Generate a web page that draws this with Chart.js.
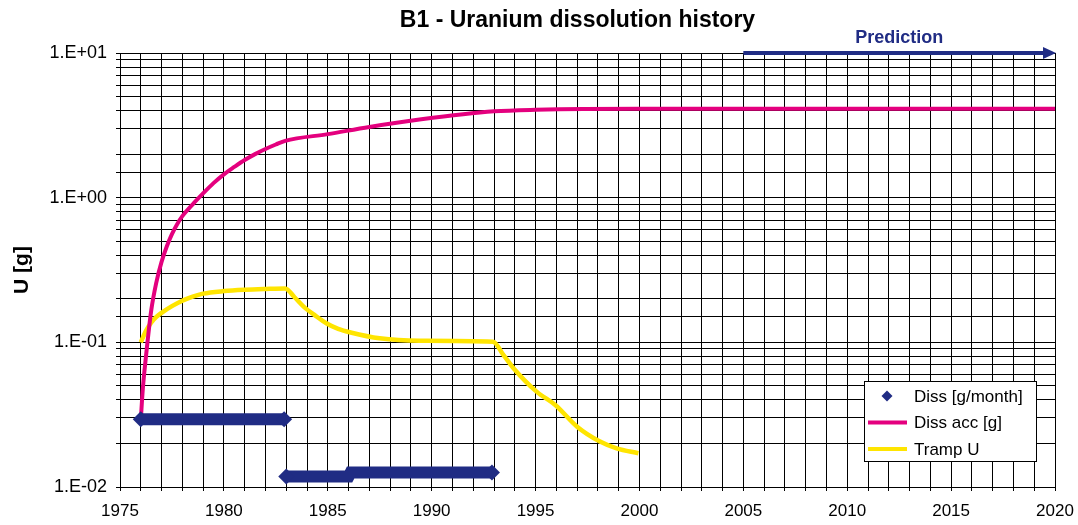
<!DOCTYPE html>
<html>
<head>
<meta charset="utf-8">
<script src="https://cdn.jsdelivr.net/npm/chart.js@4/dist/chart.umd.min.js"></script>
<style>
  html, body { margin: 0; padding: 0; background: #fff; }
  canvas { display: block; }
</style>
</head>
<body>
<canvas id="c" width="1078" height="525"></canvas>
<script>
// ---- data ----
const chartTitle = 'B1 - Uranium dissolution history';
const yAxisTitle = 'U [g]';
const seriesNames = ['Diss [g/month]', 'Diss acc [g]', 'Tramp U'];
const predictionLabel = 'Prediction';
const predictionRange = [2005, 2020];

const xMin = 1975, xMax = 2020;
const xTickLabels = [1975, 1980, 1985, 1990, 1995, 2000, 2005, 2010, 2015, 2020];
const yMin = 0.01, yMax = 10;
const yTickValues = [0.01, 0.1, 1, 10];
const yTickLabels = ['1.E-02', '1.E-01', '1.E+00', '1.E+01'];

// Diss [g/month] (null separates segments)
const dissX = [1976.0, 1982.9, 1982.95, 1983.0, 1986.0, 1986.1, 1992.9];
const dissY = [0.0294, 0.0294, null, 0.0118, 0.0118, 0.0126, 0.0126];

// Diss acc [g]
const accX = [1976.0, 1976.1, 1976.25, 1976.5, 1976.75, 1977.0, 1977.25, 1977.5, 1977.75, 1978.0, 1978.5, 1979.0, 1979.5, 1980.0, 1980.5, 1981.0, 1981.5, 1982.0, 1982.5, 1982.95, 1985.0, 1987.0, 1989.5, 1993.0, 1995.0, 2000.0, 2020.0];
const accY = [0.029, 0.048, 0.08, 0.165, 0.26, 0.36, 0.46, 0.56, 0.655, 0.745, 0.9, 1.07, 1.26, 1.45, 1.63, 1.82, 2.0, 2.17, 2.33, 2.47, 2.75, 3.08, 3.48, 3.95, 4.05, 4.12, 4.12];

// Tramp U
const trampX = [1976.0, 1976.25, 1976.5, 1976.75, 1977.0, 1977.5, 1978.0, 1978.5, 1979.0, 1980.0, 1981.0, 1982.0, 1982.95, 1983.4, 1983.85, 1984.4, 1984.95, 1985.5, 1986.1, 1987.5, 1989.4, 1992.95, 1993.45, 1993.95, 1995.05, 1995.95, 1997.0, 1998.1, 1998.9, 1999.95];
const trampY = [0.100, 0.120, 0.137, 0.150, 0.160, 0.178, 0.194, 0.207, 0.217, 0.226, 0.231, 0.234, 0.236, 0.205, 0.176, 0.153, 0.135, 0.124, 0.117, 0.1066, 0.1026, 0.101, 0.082, 0.066, 0.0456, 0.0369, 0.0261, 0.0206, 0.0185, 0.0171];

// ---- styling ----
const NAVY = '#202C84', MAGENTA = '#E4007E', YELLOW = '#FFE500';
const FONT = '"Liberation Sans", Arial, Helvetica, sans-serif';

const toPts = (xs, ys) => xs.map((x, i) => ({ x: x, y: ys[i] }));

const dissPts = toPts(dissX, dissY);
function isSegEnd(ctx) {
  const i = ctx.dataIndex, d = dissPts;
  if (d[i].y === null) return false;
  const prevNull = i === 0 || d[i - 1].y === null;
  const nextNull = i === d.length - 1 || d[i + 1].y === null;
  return prevNull || nextNull;
}

const overlayPlugin = {
  id: 'overlay',
  afterDraw(chart) {
    const ctx = chart.ctx, area = chart.chartArea;
    const xs = chart.scales.x, ys = chart.scales.y;
    ctx.save();
    // title
    ctx.fillStyle = '#000';
    ctx.font = 'bold 23px ' + FONT;
    ctx.textAlign = 'center';
    ctx.textBaseline = 'middle';
    ctx.fillText(chartTitle, (area.left + area.right) / 2 - 10, 21);
    // y title
    ctx.save();
    ctx.translate(22, (area.top + area.bottom) / 2);
    ctx.rotate(-Math.PI / 2);
    ctx.font = 'bold 21px ' + FONT;
    ctx.fillText(yAxisTitle, 0, 0);
    ctx.restore();
    // prediction arrow
    const x1 = xs.getPixelForValue(predictionRange[0]);
    const x2 = xs.getPixelForValue(predictionRange[1]);
    const y0 = ys.getPixelForValue(yMax);
    ctx.strokeStyle = NAVY;
    ctx.fillStyle = NAVY;
    ctx.lineWidth = 4;
    ctx.beginPath();
    ctx.moveTo(x1, y0);
    ctx.lineTo(x2 - 8, y0);
    ctx.stroke();
    ctx.beginPath();
    ctx.moveTo(x2 - 12, y0 - 6);
    ctx.lineTo(x2 + 1, y0);
    ctx.lineTo(x2 - 12, y0 + 6);
    ctx.closePath();
    ctx.fill();
    ctx.font = 'bold 18px ' + FONT;
    ctx.fillText(predictionLabel, (x1 + x2) / 2, y0 - 15);
    // legend
    const bx = area.right - 191, by = area.bottom - 106, bw = 172, bh = 80;
    ctx.fillStyle = '#fff';
    ctx.fillRect(bx, by, bw, bh);
    ctx.strokeStyle = '#000';
    ctx.lineWidth = 1;
    ctx.strokeRect(bx + 0.5, by + 0.5, bw, bh);
    const rows = [by + 15, by + 41.5, by + 68];
    ctx.font = '17px ' + FONT;
    ctx.textAlign = 'left';
    ctx.textBaseline = 'middle';
    // diamond
    ctx.fillStyle = NAVY;
    ctx.beginPath();
    const dx = bx + 23, dy = rows[0];
    ctx.moveTo(dx, dy - 5.5); ctx.lineTo(dx + 5.5, dy); ctx.lineTo(dx, dy + 5.5); ctx.lineTo(dx - 5.5, dy);
    ctx.closePath(); ctx.fill();
    // lines
    ctx.lineWidth = 4;
    ctx.strokeStyle = MAGENTA;
    ctx.beginPath(); ctx.moveTo(bx + 4, rows[1]); ctx.lineTo(bx + 43, rows[1]); ctx.stroke();
    ctx.strokeStyle = YELLOW;
    ctx.beginPath(); ctx.moveTo(bx + 4, rows[2]); ctx.lineTo(bx + 43, rows[2]); ctx.stroke();
    ctx.fillStyle = '#000';
    seriesNames.forEach((n, i) => ctx.fillText(n, bx + 50, rows[i] + 1));
    ctx.restore();
  }
};

new Chart(document.getElementById('c'), {
  type: 'line',
  data: {
    datasets: [
      {
        label: seriesNames[0],
        data: dissPts,
        borderColor: NAVY,
        backgroundColor: NAVY,
        borderWidth: 12,
        borderCapStyle: 'butt',
        spanGaps: false,
        pointStyle: 'rectRot',
        pointRadius: (c) => isSegEnd(c) ? 8 : 0,
        pointBorderWidth: 0,
        pointBackgroundColor: NAVY,
        tension: 0
      },
      {
        label: seriesNames[1],
        data: toPts(accX, accY),
        borderColor: MAGENTA,
        borderWidth: 4,
        pointRadius: 0,
        cubicInterpolationMode: 'monotone'
      },
      {
        label: seriesNames[2],
        data: toPts(trampX, trampY),
        borderColor: YELLOW,
        borderWidth: 4.5,
        pointRadius: 0,
        cubicInterpolationMode: 'monotone'
      }
    ]
  },
  options: {
    responsive: false,
    animation: false,
    layout: { padding: { top: 53, right: 23, left: 0, bottom: 0 } },
    plugins: { legend: { display: false }, title: { display: false }, tooltip: { enabled: false } },
    scales: {
      x: {
        type: 'linear',
        min: xMin, max: xMax,
        afterFit: (s) => { s.height = 38; s.paddingLeft = 0; s.paddingRight = 0; },
        grid: { color: '#000', lineWidth: 1, tickLength: 4, drawTicks: true },
        border: { color: '#000', width: 1 },
        ticks: {
          stepSize: 1,
          autoSkip: false,
          maxRotation: 0, minRotation: 0,
          padding: 10,
          color: '#000',
          font: { family: FONT, size: 17 },
          callback: (v) => xTickLabels.includes(v) ? String(v) : ''
        }
      },
      y: {
        type: 'logarithmic',
        min: yMin, max: yMax,
        afterFit: (s) => { s.width = 120; },
        grid: { color: '#000', lineWidth: 1, tickLength: 4 },
        border: { color: '#000', width: 1 },
        ticks: {
          autoSkip: false,
          padding: 9,
          color: '#000',
          font: { family: FONT, size: 18 },
          callback: (v) => {
            const i = yTickValues.findIndex(t => Math.abs(t - v) / t < 1e-6);
            return i >= 0 ? yTickLabels[i] : '';
          }
        }
      }
    }
  },
  plugins: [overlayPlugin]
});
</script>
</body>
</html>
